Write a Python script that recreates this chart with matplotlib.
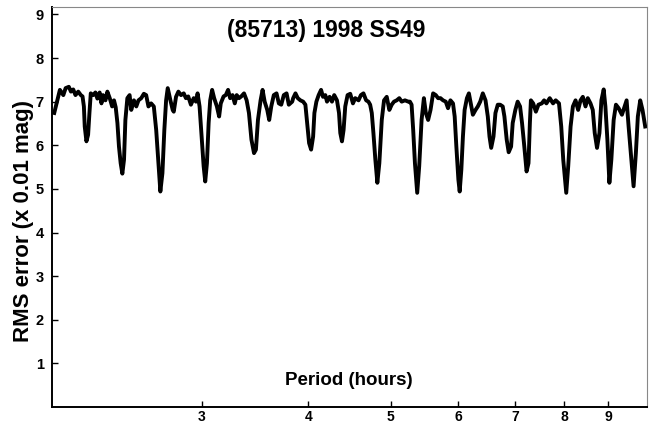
import matplotlib
matplotlib.use("Agg")
import matplotlib.pyplot as plt
from matplotlib.ticker import FixedLocator, NullLocator, FixedFormatter

plt.rcParams["font.family"] = ["Liberation Sans", "DejaVu Sans"]
plt.rcParams["font.weight"] = "bold"

# period spectrum (hours, RMS x 0.01 mag)
period = [
    2.012, 2.025, 2.043, 2.062, 2.075, 2.093, 2.105, 2.118, 2.131, 2.147,
    2.162, 2.172, 2.180, 2.185, 2.195, 2.205, 2.213, 2.221, 2.235, 2.249,
    2.261, 2.275, 2.286, 2.296, 2.311, 2.323, 2.338, 2.353, 2.365, 2.376,
    2.387, 2.397, 2.408, 2.419, 2.430, 2.439, 2.452, 2.467, 2.478, 2.496,
    2.512, 2.527, 2.546, 2.564, 2.580, 2.596, 2.615, 2.634, 2.651, 2.667,
    2.681, 2.696, 2.710, 2.723, 2.735, 2.755, 2.772, 2.780, 2.797, 2.815,
    2.835, 2.856, 2.873, 2.891, 2.912, 2.934, 2.952, 2.965, 2.981, 2.998,
    3.014, 3.027, 3.041, 3.055, 3.068, 3.084, 3.101, 3.124, 3.143, 3.157,
    3.181, 3.200, 3.220, 3.238, 3.259, 3.279, 3.296, 3.317, 3.337, 3.362,
    3.386, 3.407, 3.430, 3.454, 3.472, 3.491, 3.516, 3.535, 3.555, 3.580,
    3.599, 3.619, 3.644, 3.671, 3.694, 3.718, 3.744, 3.772, 3.795, 3.830,
    3.840, 3.864, 3.888, 3.916, 3.945, 3.969, 3.988, 4.009, 4.031, 4.053,
    4.067, 4.089, 4.114, 4.141, 4.163, 4.189, 4.208, 4.238, 4.265, 4.291,
    4.323, 4.347, 4.362, 4.382, 4.401, 4.421, 4.449, 4.481, 4.514, 4.542,
    4.583, 4.612, 4.644, 4.678, 4.707, 4.729, 4.750, 4.771, 4.796, 4.822,
    4.848, 4.880, 4.910, 4.946, 4.981, 5.013, 5.044, 5.081, 5.117, 5.150,
    5.196, 5.242, 5.266, 5.290, 5.313, 5.338, 5.371, 5.400, 5.435, 5.469,
    5.498, 5.532, 5.568, 5.607, 5.648, 5.683, 5.720, 5.760, 5.802, 5.838,
    5.876, 5.917, 5.944, 5.971, 6.004, 6.025, 6.052, 6.078, 6.106, 6.144,
    6.177, 6.217, 6.244, 6.289, 6.328, 6.369, 6.414, 6.461, 6.501, 6.531,
    6.561, 6.602, 6.637, 6.679, 6.722, 6.769, 6.800, 6.842, 6.879, 6.924,
    6.954, 7.004, 7.048, 7.094, 7.132, 7.176, 7.220, 7.258, 7.285, 7.305,
    7.350, 7.404, 7.456, 7.524, 7.571, 7.618, 7.687, 7.756, 7.812, 7.882,
    7.930, 7.973, 8.038, 8.081, 8.133, 8.184, 8.243, 8.301, 8.355, 8.407,
    8.468, 8.520, 8.583, 8.636, 8.682, 8.736, 8.793, 8.840, 8.895, 8.936,
    8.984, 9.033, 9.081, 9.138, 9.195, 9.262, 9.345, 9.413, 9.464, 9.515,
    9.585, 9.644, 9.704, 9.756, 9.819, 9.880, 9.952,
]
rms = [
    6.74, 6.96, 7.27, 7.15, 7.31, 7.34, 7.23, 7.28, 7.15, 7.23,
    7.15, 7.12, 6.89, 6.43, 6.09, 6.24, 6.74, 7.19, 7.15, 7.21,
    7.07, 7.21, 6.96, 7.15, 7.03, 7.23, 7.08, 6.89, 7.03, 6.87,
    6.51, 5.97, 5.59, 5.35, 5.67, 6.58, 7.08, 7.15, 6.81, 7.03,
    6.89, 7.03, 7.08, 7.18, 7.15, 6.89, 6.96, 6.89, 6.35, 5.59,
    4.94, 5.36, 6.35, 7.03, 7.31, 7.03, 6.81, 6.77, 7.11, 7.23,
    7.15, 7.19, 7.08, 7.12, 6.93, 7.08, 7.00, 7.19, 6.89, 6.20,
    5.52, 5.17, 5.59, 6.51, 7.03, 7.27, 7.08, 6.89, 6.66, 6.96,
    7.12, 7.15, 7.27, 7.08, 7.15, 6.96, 7.15, 7.08, 7.12, 7.19,
    7.03, 6.74, 6.13, 5.82, 5.90, 6.58, 7.03, 7.27, 7.00, 6.81,
    6.58, 6.89, 7.15, 7.19, 6.96, 6.93, 7.15, 7.19, 6.93, 7.00,
    7.08, 7.19, 7.08, 7.03, 7.00, 6.93, 6.51, 6.05, 5.90, 6.20,
    6.74, 7.00, 7.15, 7.27, 7.11, 7.15, 7.00, 7.11, 7.00, 7.15,
    7.03, 6.74, 6.28, 6.09, 6.35, 6.89, 7.15, 7.18, 6.96, 7.08,
    7.03, 7.15, 7.19, 7.03, 7.00, 6.93, 6.74, 6.28, 5.67, 5.14,
    5.59, 6.58, 7.03, 7.11, 6.81, 6.93, 7.00, 7.03, 7.08, 7.00,
    7.03, 7.00, 7.00, 6.93, 6.35, 5.59, 4.91, 5.52, 6.58, 7.08,
    6.74, 6.58, 6.81, 7.19, 7.15, 7.08, 7.08, 7.03, 7.00, 6.85,
    7.03, 6.96, 6.66, 5.97, 5.21, 4.94, 5.44, 6.20, 6.81, 7.08,
    7.19, 6.89, 6.70, 6.81, 6.89, 7.00, 7.19, 7.03, 6.66, 6.20,
    5.94, 6.20, 6.74, 6.93, 6.93, 6.89, 6.66, 6.13, 5.84, 5.97,
    6.51, 6.81, 7.00, 6.89, 6.51, 5.97, 5.40, 5.59, 6.51, 7.03,
    6.96, 6.77, 6.93, 6.96, 7.03, 6.96, 7.08, 6.96, 7.03, 6.96,
    6.43, 5.67, 4.91, 5.52, 6.43, 6.89, 7.03, 6.81, 7.03, 7.11,
    6.89, 7.08, 6.96, 6.81, 6.28, 5.94, 6.28, 7.03, 7.28, 6.89,
    6.13, 5.14, 5.67, 6.58, 6.93, 6.85, 6.70, 6.89, 7.03, 6.43,
    5.67, 5.06, 5.82, 6.66, 7.03, 6.81, 6.43,
]

x_ticks = [3, 4, 5, 6, 7, 8, 9]
y_ticks = [1, 2, 3, 4, 5, 6, 7, 8, 9]

fig = plt.figure(figsize=(6.52, 4.26), dpi=100)
ax = fig.add_axes([0.0798, 0.0446, 0.9125, 0.939])

ax.plot(period, rms, color="black", lw=2.8, solid_joinstyle="round")

ax.set_xscale("log")
ax.set_xlim(2.0, 10.0)
ax.set_ylim(0, 9.17)
ax.xaxis.set_major_locator(FixedLocator(x_ticks))
ax.xaxis.set_major_formatter(FixedFormatter([str(t) for t in x_ticks]))
ax.xaxis.set_minor_locator(NullLocator())
ax.set_yticks(y_ticks)
ax.set_yticklabels([str(t) for t in y_ticks])
ax.tick_params(direction="in", length=4, width=1, labelsize=10.5)
ax.tick_params(axis="y", pad=6)
ax.tick_params(axis="x", pad=2, labelsize=10)

for s in ["left", "bottom"]:
    ax.spines[s].set_linewidth(1.4)
    ax.spines[s].set_color("black")
for s in ["top", "right"]:
    ax.spines[s].set_linewidth(0.8)
    ax.spines[s].set_color("#888888")

ax.text(0.46, 0.94, "(85713) 1998 SS49", transform=ax.transAxes,
        ha="center", va="center", fontsize=16.5, fontweight="bold")
ax.text(0.499, 0.065, "Period (hours)", transform=ax.transAxes,
        ha="center", va="center", fontsize=13.5, fontweight="bold")
fig.text(0.036, 0.481, "RMS error (x 0.01 mag)", rotation=90,
         ha="center", va="center", fontsize=16, fontweight="bold")

fig.savefig("out.png", dpi=100)
